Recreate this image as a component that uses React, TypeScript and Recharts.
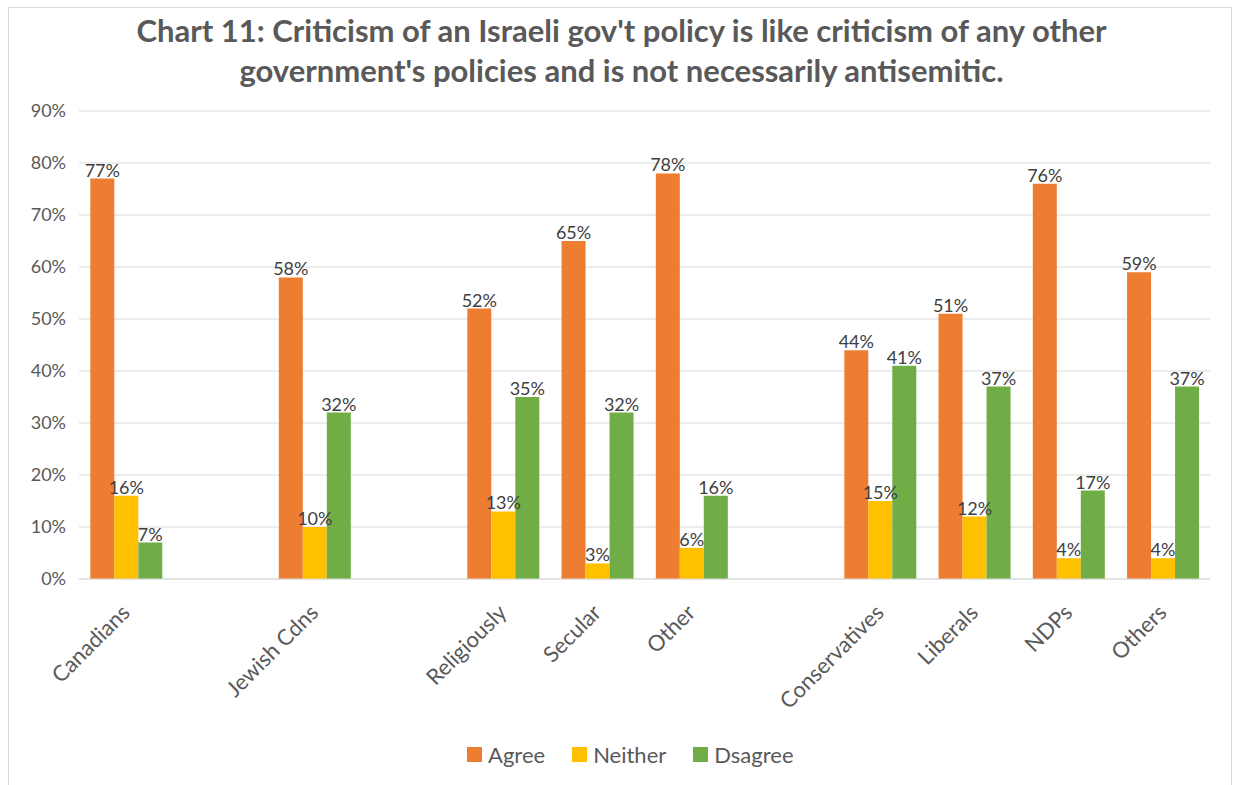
import React from 'react';
import { BarChart, Bar, XAxis, YAxis, CartesianGrid, Legend, LabelList } from 'recharts';

const categories = ['Canadians', '', 'Jewish Cdns', '', 'Religiously', 'Secular', 'Other', '', 'Conservatives', 'Liberals', 'NDPs', 'Others'];
const agree = [77, null, 58, null, 52, 65, 78, null, 44, 51, 76, 59];
const neither = [16, null, 10, null, 13, 3, 6, null, 15, 12, 4, 4];
const disagree = [7, null, 32, null, 35, 32, 16, null, 41, 37, 17, 37];
const yTicks = [0, 10, 20, 30, 40, 50, 60, 70, 80, 90];
const seriesNames = ['Agree', 'Neither', 'Dsagree'];
const seriesColors = ['#ED7D31', '#FFC000', '#70AD47'];
const titleLines = [
  "Chart 11: Criticism of an Israeli gov't policy is like criticism of any other",
  "government's policies and is not necessarily antisemitic.",
];

const data = categories.map((c, i) => ({ name: c, agree: agree[i], neither: neither[i], disagree: disagree[i] }));
const keys = ['agree', 'neither', 'disagree'];

const FONT = 'Lato, "Open Sans", sans-serif';

const fmt = (v: any) => (v == null ? '' : `${v}%`);

const XTick = (props: any) => {
  const { x, y, payload } = props;
  return (
    <text transform={`translate(${x + 5}, ${y + 35}) rotate(-45)`} x={0} y={0} textAnchor="end" fill="#595959" fontSize={22} fontFamily={FONT}>
      {payload.value}
    </text>
  );
};

const LegendContent = () => (
  <div style={{ display: 'flex', justifyContent: 'flex-start', alignItems: 'center', paddingLeft: 467, fontFamily: FONT, fontSize: 22, color: '#595959' }}>
    {seriesNames.map((n, i) => (
      <div key={n} style={{ display: 'flex', alignItems: 'center', marginRight: 27 }}>
        <span style={{ display: 'inline-block', width: 15, height: 15, background: seriesColors[i], marginRight: 6 }} />
        <span>{n}</span>
      </div>
    ))}
  </div>
);

export default function App() {
  return (
    <div style={{ position: 'absolute', left: 0, top: 0, width: 1235, height: 785, background: '#fff', overflow: 'hidden' }}>
      <div style={{ position: 'absolute', left: 8, top: 7, width: 1224, height: 800, border: '1px solid #d9d9d9', boxSizing: 'border-box' }} />
      <div style={{ position: 'absolute', left: 4, top: 10, width: 1235, textAlign: 'center', fontFamily: FONT, fontWeight: 700, fontSize: 31, lineHeight: '40px', color: '#595959' }}>
        {titleLines.map((t) => (
          <div key={t}>{t}</div>
        ))}
      </div>
      <div style={{ position: 'absolute', left: 0, top: 0 }}>
        <BarChart width={1235} height={785} data={data} margin={{ top: 111, right: 25, left: 0, bottom: 66 }} barCategoryGap="12%" barGap={0}>
          <CartesianGrid vertical={false} stroke="#d9d9d9" strokeWidth={1} />
          <XAxis dataKey="name" height={140} interval={0} tick={<XTick />} tickLine={false} axisLine={{ stroke: '#d9d9d9' }} tickSize={0} tickMargin={0} />
          <YAxis width={79} domain={[0, 90]} ticks={yTicks} tickFormatter={(v: number) => `${v}%`} axisLine={false} tickLine={false} tickSize={0} tickMargin={13} tick={{ fill: '#595959', fontSize: 18, fontFamily: FONT }} />
          <Legend verticalAlign="bottom" content={<LegendContent />} wrapperStyle={{ position: 'absolute', top: 741, left: 0, width: 1235, height: 0, bottom: 'auto' }} />
          {keys.map((k, i) => (
            <Bar key={k} dataKey={k} name={seriesNames[i]} fill={seriesColors[i]} isAnimationActive={false}>
              <LabelList dataKey={k} position="top" offset={2} formatter={fmt} fill="#404040" fontSize={18} fontFamily={FONT} />
            </Bar>
          ))}
        </BarChart>
      </div>
    </div>
  );
}
